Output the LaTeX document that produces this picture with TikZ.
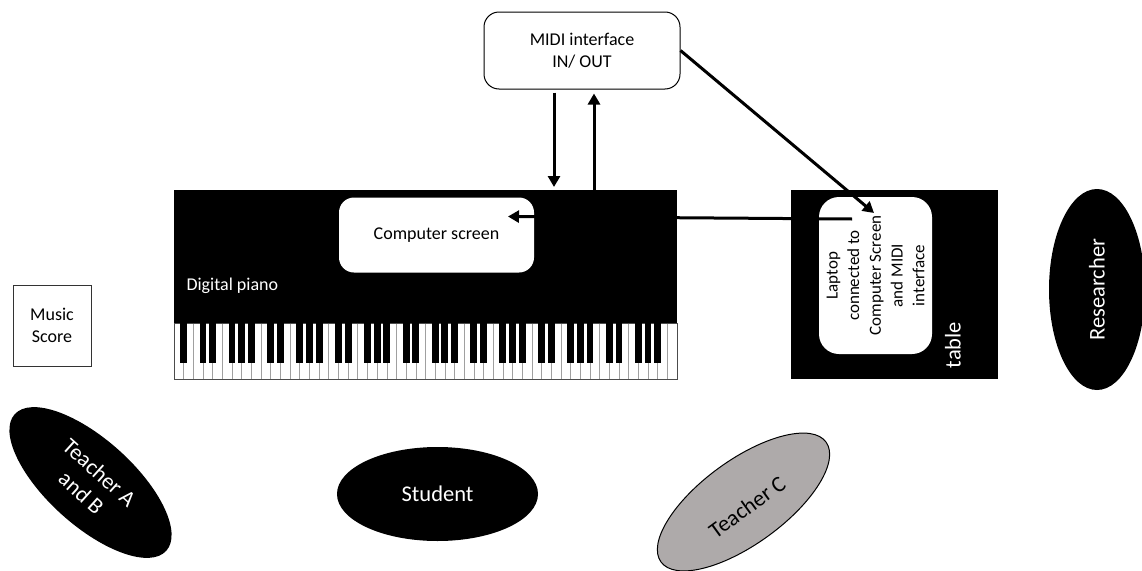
\documentclass[tikz,border=0pt]{standalone}
\usepackage{fontspec}
\setmainfont{Carlito}
\usetikzlibrary{shapes.geometric,arrows.meta,calc}
\definecolor{personGray}{HTML}{AEAAAA}
\definecolor{keyLine}{HTML}{A0A0A0}

\begin{document}
\begin{tikzpicture}[x=1pt,y=-1pt,
  txt/.style={font=\fontsize{18}{22}\selectfont, align=center},
  bigtxt/.style={font=\fontsize{22.5}{27}\selectfont, align=center},
  panel/.style={fill=black, inner sep=0pt, anchor=north west},
  softbox/.style={fill=white, rounded corners=15pt, inner sep=0pt, txt},
  person/.style={ellipse, fill=black, text=white, inner sep=0pt, bigtxt},
  link/.style={line width=3pt, -{Triangle[length=11pt,width=12pt]}},
]
\path[use as bounding box, clip] (0,0) rectangle (1142,570);
\def\kw{9.6731}% white key width

% MIDI interface box
\node[softbox, draw=black, line width=1pt, minimum width=196pt, minimum height=77pt]
  (midi) at (582,50.5) {MIDI interface\\IN/ OUT};

% Digital piano body
\node[panel, minimum width=503pt, minimum height=189pt] (piano) at (174,190) {};

% 88-key keyboard: 52 white keys, 36 black keys
\fill[white] (174,323) rectangle (677,379);
\foreach \k in {1,...,51}
  \draw[keyLine, line width=0.6pt] ({174+\k*\kw},323) -- ({174+\k*\kw},379);
\draw[black!70, line width=0.8pt] (174,323) rectangle (677,379);
\fill ({174+\kw-3.4},323) rectangle +(6.8,40);
\foreach \o in {0,...,6}
  \foreach \d in {3,4,6,7,8}
    \fill ({174+(\d+7*\o)*\kw-3.4},323) rectangle +(6.8,40);

\node[txt, text=white, anchor=base west] (pianolabel) at (183,290) {Digital piano};

% Screen on the piano
\node[softbox, minimum width=195pt, minimum height=75pt] (screen) at (436.5,235) {Computer screen};

% Table with laptop
\node[panel, minimum width=207pt, minimum height=189pt] (table) at (791,190) {};
\node[softbox, rounded corners=20pt, rotate=90, minimum width=157pt, minimum height=113pt,
  font=\fontsize{17}{21.7}\selectfont] (laptop) at (875.5,275.5)
  {Laptop\\connected to\\Computer Screen\\and MIDI\\interface};
\node[bigtxt, text=white, rotate=90] (tablelabel) at (953,345) {table};

% Music score
\node[draw=black!80, line width=0.8pt, minimum width=78pt, minimum height=81pt, txt, inner sep=0pt]
  (score) at (52,325.5) {Music\\Score};

% People
\node[person, rotate=-42, minimum width=204pt, minimum height=86pt] (teacherAB) at (90.5,482.5) {Teacher A\\and B};
\node[person, minimum width=201pt, minimum height=94pt] (student) at (437.5,494) {Student};
\node[person, fill=personGray, draw=black, line width=1pt, text=black, rotate=36,
  minimum width=204pt, minimum height=84pt] (teacherC) at (743.5,502)
  {\raisebox{-6pt}[\height][\depth]{Teacher C}};
\node[person, rotate=90, minimum width=201pt, minimum height=96pt] (researcher) at (1097,289.5) {Researcher};

% Connections
\coordinate (dn) at (554,0);
\coordinate (up) at (594,0);
\coordinate (lapin) at (874,213);
\coordinate (lapout) at (852,219);
\coordinate (scrin) at (508,216.5);
\draw[link, shorten <=3pt, shorten >=3pt] (midi.south -| dn) -- (piano.north -| dn);
\draw[link, shorten >=4pt] (piano.north -| up) -- (midi.south -| up);
\draw[link] (midi.east) -- (lapin);
\draw[link] (lapout) -- (scrin);
\end{tikzpicture}
\end{document}
